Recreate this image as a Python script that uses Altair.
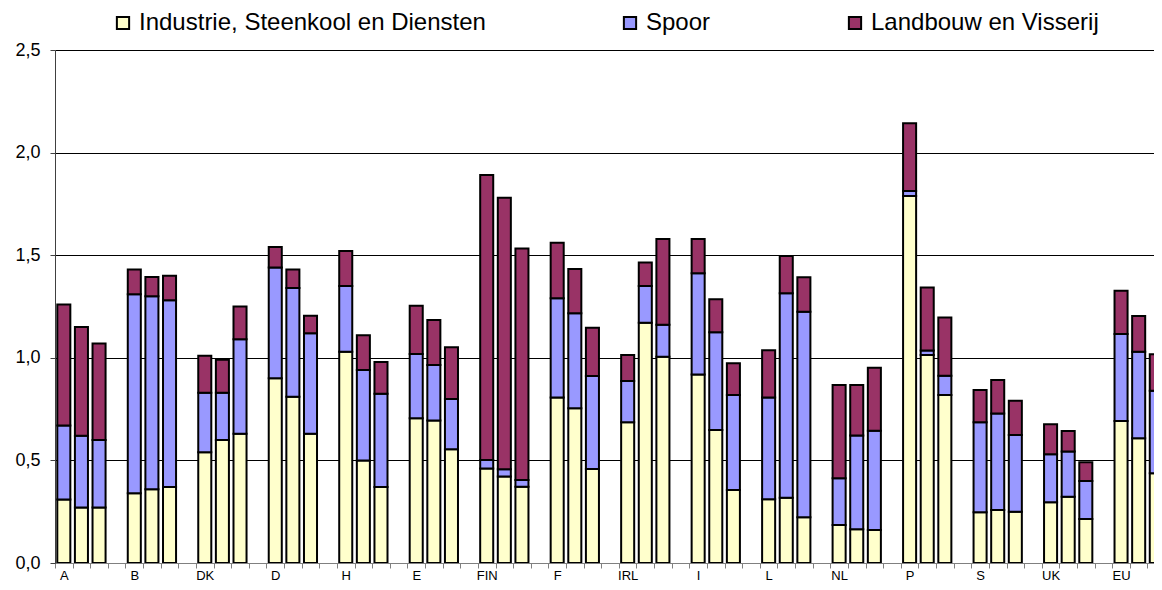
import altair as alt
import pandas as pd

countries = ["A", "B", "DK", "D", "H", "E", "FIN", "F", "IRL", "I", "L", "NL", "P", "S", "UK", "EU"]
series = ["Industrie, Steenkool en Diensten", "Spoor", "Landbouw en Visserij"]
colors = ["#FFFFCC", "#9999FF", "#993366"]

# three bars per country, segment values
industrie = [0.31, 0.27, 0.27, 0.34, 0.36, 0.37, 0.54, 0.60, 0.63, 0.90, 0.81, 0.63,
             1.03, 0.50, 0.37, 0.705, 0.694, 0.554, 0.461, 0.421, 0.372, 0.807, 0.754, 0.458,
             0.686, 1.171, 1.005, 0.919, 0.648, 0.356, 0.311, 0.318, 0.223, 0.185, 0.164, 0.161,
             1.789, 1.014, 0.819, 0.247, 0.258, 0.250, 0.296, 0.323, 0.214, 0.692, 0.608, 0.437]
spoor = [0.36, 0.35, 0.33, 0.97, 0.94, 0.91, 0.29, 0.23, 0.46, 0.54, 0.53, 0.49,
         0.32, 0.44, 0.455, 0.314, 0.271, 0.245, 0.041, 0.036, 0.032, 0.483, 0.463, 0.453,
         0.201, 0.179, 0.156, 0.493, 0.476, 0.463, 0.496, 0.996, 1.002, 0.228, 0.457, 0.484,
         0.024, 0.021, 0.094, 0.439, 0.471, 0.374, 0.234, 0.220, 0.186, 0.424, 0.422, 0.403]
landbouw = [0.59, 0.53, 0.47, 0.12, 0.094, 0.12, 0.18, 0.16, 0.16, 0.10, 0.09, 0.085,
            0.17, 0.17, 0.155, 0.235, 0.219, 0.252, 1.389, 1.323, 1.129, 0.271, 0.216, 0.236,
            0.127, 0.115, 0.418, 0.167, 0.161, 0.154, 0.230, 0.182, 0.167, 0.454, 0.246, 0.307,
            0.330, 0.307, 0.283, 0.157, 0.163, 0.167, 0.146, 0.100, 0.091, 0.211, 0.174, 0.177]

rows = []
for i, c in enumerate(countries):
    for j in range(3):
        k = i * 3 + j
        slot = i * 4 + j
        base = 0.0
        for s, vals in zip(series, [industrie, spoor, landbouw]):
            v = vals[k]
            rows.append({"land": c, "slot": slot, "serie": s,
                         "y0": base, "y1": base + v, "waarde": v})
            base += v
df = pd.DataFrame(rows)

n_slots = len(countries) * 4
x_end = 62.37  # the reference image is cropped inside the last bar
label_list = "[" + ",".join("'" + c + "'" for c in countries) + "]"
label_expr = (f"datum.value % 4 == 0 && datum.value < {n_slots} ? "
              f"{label_list}[datum.value / 4] : ''")

chart = alt.Chart(df).mark_bar(stroke="#000000", strokeWidth=2, clip=True).encode(
    x=alt.X("xs:Q",
            scale=alt.Scale(domain=[0, x_end], nice=False, zero=False),
            axis=alt.Axis(values=list(range(0, 63)), labelExpr=label_expr,
                          labelOffset=8.8, labelOverlap=False, labelFlush=False,
                          labelBound=False, grid=False, title=None, tickSize=5,
                          labelFontSize=13, labelPadding=1, domainColor="#808080",
                          tickColor="#808080", labelColor="#000000")),
    x2="xe:Q",
    y=alt.Y("y0:Q",
            scale=alt.Scale(domain=[0, 2.5], nice=False),
            axis=alt.Axis(values=[0, 0.5, 1.0, 1.5, 2.0, 2.5],
                          labelExpr="replace(format(datum.value, '.1f'), '.', ',')",
                          title=None, tickSize=5, labelFontSize=18, labelPadding=10,
                          gridColor="#000000", gridWidth=1, domainColor="#404040",
                          tickColor="#404040", labelColor="#000000")),
    y2="y1:Q",
    color=alt.Color("serie:N",
                    scale=alt.Scale(domain=series, range=colors),
                    sort=series,
                    legend=alt.Legend(orient="none", legendX=56, legendY=-39,
                                      direction="horizontal", title=None,
                                      symbolType="square", symbolSize=150,
                                      symbolStrokeColor="#000000", symbolStrokeWidth=2,
                                      symbolOpacity=1,
                                      labelFontSize=24, labelColor="#000000",
                                      labelOffset=4, columnPadding=132, padding=0,
                                      labelLimit=600)),
).transform_calculate(
    xs="datum.slot + 0.13",
    xe="datum.slot + 0.87",
).properties(
    width=1099, height=513,
    autosize=alt.AutoSizeParams(type="none"),
    padding={"left": 47, "top": 42, "right": 0, "bottom": 19},
).configure(
    font="Liberation Sans"
).configure_view(
    stroke=None
)

chart.save("out.html", embed_options={"renderer": "svg", "actions": False})
